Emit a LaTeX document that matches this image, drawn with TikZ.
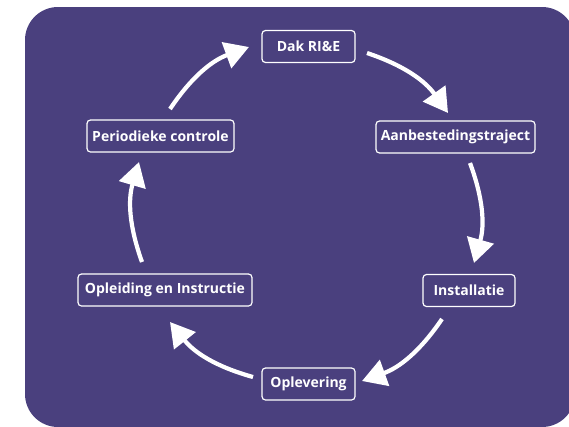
\documentclass[tikz,border=0pt]{standalone}
\usepackage{fontspec}
\setmainfont{Open Sans}
\usetikzlibrary{arrows.meta}
\definecolor{bgpurple}{RGB}{74,64,126}
\tikzset{
  stagebox/.style={draw=white, line width=1.2pt, rounded corners=3.5pt, text=white,
    font=\bfseries\fontsize{14}{16}\selectfont, minimum height=32pt, inner sep=0pt, align=center},
  cyclearrow/.style={draw=white, line width=4.2pt, bend left=18,
    -{Triangle[length=24pt,width=27pt]}}
}
\begin{document}
\begin{tikzpicture}[x=1pt,y=-1pt]
\useasboundingbox (0,0) rectangle (569,426);
\begin{scope}
\clip (0,0) rectangle (569,426);
\fill[bgpurple, rounded corners=33pt] (25,7) rectangle (575,427);
\end{scope}
\node[stagebox, minimum width=93pt]  (dak)  at (308.5,46.5) {Dak RI\&E};
\node[stagebox, minimum width=159pt] (aanb) at (455.5,137) {Aanbestedingstraject};
\node[stagebox, minimum width=92pt]  (inst) at (469,290.5) {Installatie};
\node[stagebox, minimum width=93pt]  (oplev) at (308.5,384) {Oplevering};
\node[stagebox, minimum width=174pt] (opl)  at (165,290) {Opleiding en Instructie};
\node[stagebox, minimum width=147pt] (per)  at (160.5,136) {Periodieke controle};
\coordinate (a1s) at (367,53);  \coordinate (a1e) at (448,113);
\coordinate (a2s) at (470,163); \coordinate (a2e) at (474,263);
\coordinate (a3s) at (442,319); \coordinate (a3e) at (362,381);
\coordinate (a4s) at (253,377); \coordinate (a4e) at (170,322);
\coordinate (a5s) at (142,262); \coordinate (a5e) at (139,162);
\coordinate (a6s) at (170,109); \coordinate (a6e) at (249,47);
\draw[cyclearrow] (a1s) to (a1e);
\draw[cyclearrow] (a2s) to (a2e);
\draw[cyclearrow] (a3s) to (a3e);
\draw[cyclearrow] (a4s) to (a4e);
\draw[cyclearrow] (a5s) to (a5e);
\draw[cyclearrow] (a6s) to (a6e);
\end{tikzpicture}
\end{document}
